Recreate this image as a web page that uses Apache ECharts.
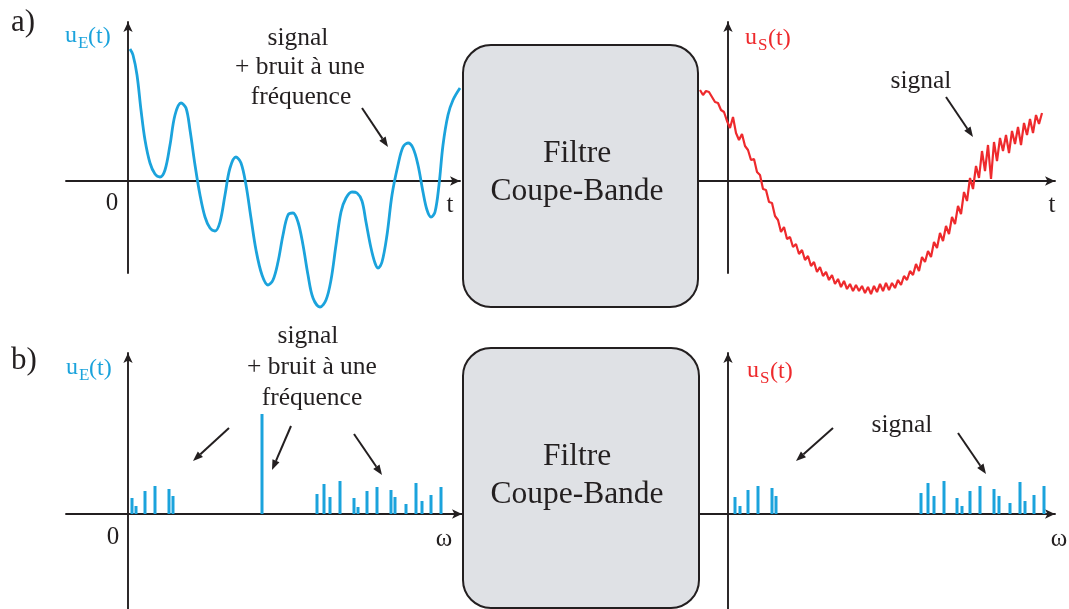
<!DOCTYPE html>
<html>
<head>
<meta charset="utf-8">
<script src="https://cdn.jsdelivr.net/npm/echarts@6/dist/echarts.min.js"></script>
<style>
html,body{margin:0;padding:0;background:#fff;}
#c{width:1069px;height:609px;}
</style>
</head>
<body>
<div id="c"></div>
<script>
// ---- data (axis units: origin at the axes crossing) ----
// a) input signal u_E(t): slow signal + one-frequency noise
const inputSignal = [[2,132],[5,126],[9,106],[13,71],[17,41],[22,18],[27,7],[32,4],[37,11],[42,36],[47,66],[53,78],[58,73],[62,51],[67,16],[72,-14],[77,-36],[82,-47],[87,-50],[92,-41],[97,-14],[102,13],[108,24],[113,18],[118,-4],[123,-37],[128,-69],[134,-94],[140,-104],[145,-99],[150,-81],[155,-54],[160,-34],[165,-32],[170,-41],[175,-64],[180,-94],[185,-117],[192,-126],[198,-119],[203,-99],[208,-64],[213,-31],[218,-17],[224,-11],[229,-12],[234,-20],[238,-41],[243,-67],[247,-82],[250,-87],[254,-81],[259,-54],[264,-14],[270,16],[275,34],[280,38],[285,33],[290,16],[295,-11],[299,-29],[303,-36],[307,-31],[311,-4],[315,36],[320,66],[325,81],[332,93]];
// a) output signal u_S(t): noisy slow signal
const outputSignal = [[-28,91],[-25,86],[-22,90],[-19,89],[-16,84],[-13,79],[-10,78],[-7,71],[-4,69],[-1,60],[2,53],[5,64],[8,48],[11,41],[14,47],[17,35],[20,31],[23,21],[26,22],[29,9],[32,6],[35,-8],[38,-9],[41,-21],[44,-22],[47,-35],[50,-39],[53,-51],[56,-46],[59,-58],[62,-56],[65,-66],[68,-63],[71,-73],[74,-69],[77,-79],[80,-75],[83,-85],[86,-81],[89,-91],[92,-86],[95,-95],[98,-91],[101,-99],[104,-94],[107,-103],[110,-98],[113,-106],[116,-100],[119,-108],[122,-103],[125,-110],[128,-104],[131,-110],[134,-105],[137,-112],[140,-106],[143,-113],[146,-105],[149,-111],[152,-103],[155,-110],[158,-102],[161,-109],[164,-102],[167,-107],[170,-99],[173,-104],[176,-95],[179,-99],[182,-90],[185,-94],[188,-83],[191,-90],[194,-76],[197,-81],[200,-70],[203,-76],[206,-61],[209,-67],[212,-52],[215,-60],[218,-45],[221,-53],[224,-36],[227,-43],[230,-25],[233,-33],[236,-11],[239,-20],[242,3],[245,-8],[248,15],[251,3],[254,30],[257,10],[260,36],[263,2],[266,39],[269,20],[272,43],[275,30],[278,46],[281,28],[284,50],[287,37],[290,54],[293,36],[296,58],[299,46],[302,62],[305,48],[308,66],[311,57],[314,68]];
// b) spectra [omega, amplitude]
const inputSpectrum = [[4,16],[8,8],[17,23],[27,28],[41,25],[45,18],[134,100],[189,20],[196,30],[202,17],[212,33],[226,16],[230,7],[239,23],[249,27],[263,24],[267,17],[278,10],[288,31],[294,13],[303,19],[313,27]];
const outputSpectrum = [[7,17],[12,8],[20,24],[30,28],[44,26],[48,18],[193,21],[200,31],[206,18],[216,33],[229,16],[234,8],[242,23],[252,28],[266,25],[271,18],[282,11],[292,32],[297,13],[306,19],[316,28]];
// labels
const panelLabels = ['a)', 'b)'];
const boxLines = ['Filtre', 'Coupe-Bande'];
const annotInput = ['signal', '+ bruit à une', 'fréquence'];
const annotOutput = 'signal';
const axisNames = {time: 't', freq: 'ω', zero: '0'};

const INK = '#231f20';
const BLUE = '#1ba3dc';
const RED = '#ee2a2d';
const FONT = '"Liberation Serif", "DejaVu Serif", serif';

function axisPair(gi, xr, yr) {
  const line = {show: true, onZero: true, symbol: ['none', 'arrow'], symbolSize: [7, 10],
    lineStyle: {color: INK, width: 1.9}};
  return {
    x: {type: 'value', gridIndex: gi, min: xr[0], max: xr[1], axisLine: line,
        axisTick: {show: false}, axisLabel: {show: false}, splitLine: {show: false}},
    y: {type: 'value', gridIndex: gi, min: yr[0], max: yr[1], axisLine: line,
        axisTick: {show: false}, axisLabel: {show: false}, splitLine: {show: false}}
  };
}
const a0 = axisPair(0, [-62, 332], [-92, 159]);
const a1 = axisPair(1, [-31, 327], [-92, 159]);
const a2 = axisPair(2, [-62, 334], [-95, 161]);
const a3 = axisPair(3, [-31, 327], [-95, 161]);

function txt(x, y, text, size, color, align) {
  return {type: 'text', x: x, y: y, z: 10,
    style: {text: text, fill: color || INK, font: size + 'px ' + FONT, align: align || 'center', verticalAlign: 'middle'}};
}
function uLabel(x0, y0, sub, color) {
  return [
    txt(x0, y0, 'u', 24, color, 'left'),
    txt(x0 + 13, y0 + 8, sub, 17, color, 'left'),
    txt(x0 + 23, y0 + 1, '(t)', 24, color, 'left')
  ];
}
function arrow(x1, y1, x2, y2) {
  const ang = Math.atan2(y2 - y1, x2 - x1), L = 10, W = 3.8;
  const bx = x2 - L * Math.cos(ang), by = y2 - L * Math.sin(ang);
  const px = -Math.sin(ang) * W, py = Math.cos(ang) * W;
  return [
    {type: 'line', z: 10, shape: {x1: x1, y1: y1, x2: bx, y2: by}, style: {stroke: INK, lineWidth: 2}},
    {type: 'polygon', z: 10, shape: {points: [[x2, y2], [bx + px, by + py], [bx - px, by - py]]}, style: {fill: INK}}
  ];
}
function box(x, y, w, h) {
  return {type: 'rect', z: 5, shape: {x: x, y: y, width: w, height: h, r: 28},
    style: {fill: '#dfe1e5', stroke: INK, lineWidth: 2}};
}

const graphics = [
  box(463, 45, 235, 262),
  box(463, 348, 236, 260),
  txt(577, 154, boxLines[0], 31.5), txt(577, 192, boxLines[1], 31.5),
  txt(577, 457, boxLines[0], 31.5), txt(577, 495, boxLines[1], 31.5),
  txt(11, 23, panelLabels[0], 31, INK, 'left'),
  txt(11, 361, panelLabels[1], 31, INK, 'left'),
  txt(112, 203, axisNames.zero, 25), txt(450, 205, axisNames.time, 25), txt(1052, 205, axisNames.time, 25),
  txt(113, 537, axisNames.zero, 25), txt(444, 539, axisNames.freq, 25), txt(1059, 539, axisNames.freq, 25),
  txt(298, 38, annotInput[0], 25.5), txt(300, 67, annotInput[1], 25.5), txt(301, 97, annotInput[2], 25.5),
  txt(308, 336, annotInput[0], 25.5), txt(312, 367, annotInput[1], 25.5), txt(312, 398, annotInput[2], 25.5),
  txt(921, 81, annotOutput, 25.5), txt(902, 425, annotOutput, 25.5)
].concat(
  uLabel(65, 36, 'E', BLUE), uLabel(745, 38, 'S', RED),
  uLabel(66, 368, 'E', BLUE), uLabel(747, 371, 'S', RED),
  arrow(362, 108, 388, 147), arrow(946, 97, 973, 137),
  arrow(229, 428, 193, 461), arrow(291, 426, 272, 470), arrow(354, 434, 382, 475),
  arrow(833, 428, 796, 461), arrow(958, 433, 986, 474)
);

const chart = echarts.init(document.getElementById('c'), null, {renderer: 'canvas'});
chart.setOption({
  animation: false,
  backgroundColor: '#ffffff',
  grid: [
    {left: 66, top: 22, width: 394, height: 251},
    {left: 697, top: 22, width: 358, height: 251},
    {left: 66, top: 353, width: 396, height: 256},
    {left: 697, top: 353, width: 358, height: 256}
  ],
  xAxis: [a0.x, a1.x, a2.x, a3.x],
  yAxis: [a0.y, a1.y, a2.y, a3.y],
  series: [
    {type: 'line', xAxisIndex: 0, yAxisIndex: 0, data: inputSignal, smooth: 0.35, symbol: 'none', clip: false,
     lineStyle: {color: BLUE, width: 2.8}},
    {type: 'line', xAxisIndex: 1, yAxisIndex: 1, data: outputSignal, smooth: false, symbol: 'none', clip: false,
     lineStyle: {color: RED, width: 2.2}},
    {type: 'bar', xAxisIndex: 2, yAxisIndex: 2, data: inputSpectrum, barWidth: 3, itemStyle: {color: BLUE}},
    {type: 'bar', xAxisIndex: 3, yAxisIndex: 3, data: outputSpectrum, barWidth: 3, itemStyle: {color: BLUE}}
  ],
  graphic: graphics
});
</script>
</body>
</html>
